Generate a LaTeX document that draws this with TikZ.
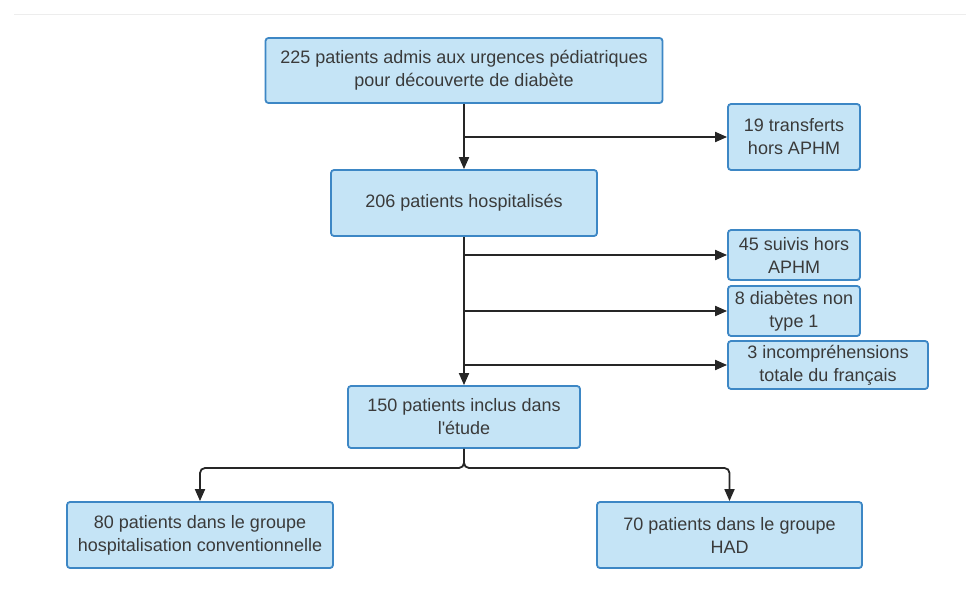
\documentclass[tikz,border=0pt]{standalone}
\usepackage{fontspec}
\setmainfont{Liberation Sans}
\usetikzlibrary{arrows.meta}
\definecolor{boxfill}{HTML}{C5E4F6}
\definecolor{boxdraw}{HTML}{3D87C5}
\definecolor{txt}{HTML}{3A3A3A}
\tikzset{
  box/.style={draw=boxdraw, fill=boxfill, line width=1.8pt, rounded corners=3pt,
    align=center, text=txt, inner sep=0pt, font=\fontsize{18}{23}\selectfont},
  arr/.style={draw=black!85, line width=1.8pt, -{Triangle[length=12pt,width=10pt]}},
}
\begin{document}
\begin{tikzpicture}[x=1pt,y=-1pt]
\useasboundingbox (0,0) rectangle (966,591);
\fill[white] (0,0) rectangle (966,591);
\draw[black!7, line width=0.8pt] (14,14) -- (966,14);

\node[box, minimum width=397pt, minimum height=65pt] (top) at (464,70.5)
  {225 patients admis aux urgences pédiatriques\\pour découverte de diabète};
\node[box, minimum width=132pt, minimum height=66pt] (t19) at (794,137)
  {19 transferts\\hors APHM};
\node[box, minimum width=266pt, minimum height=66pt] (h206) at (464,203)
  {206 patients hospitalisés};
\node[box, minimum width=132pt, minimum height=50pt] (s45) at (794,255)
  {45 suivis hors\\APHM};
\node[box, minimum width=132pt, minimum height=50pt] (d8) at (794,311)
  {8 diabètes non\\type 1};
\node[box, minimum width=200pt, minimum height=48pt] (i3) at (828,365)
  {3 incompréhensions\\totale du français};
\node[box, minimum width=232pt, minimum height=62pt] (i150) at (464,417)
  {150 patients inclus dans\\l\textquotesingle étude};
\node[box, minimum width=266pt, minimum height=66pt] (g80) at (200,535)
  {80 patients dans le groupe\\hospitalisation conventionnelle};
\node[box, minimum width=265pt, minimum height=66pt] (g70) at (729.5,535)
  {70 patients dans le groupe\\HAD};

\coordinate (b1) at (top.south |- t19.west);
\coordinate (b2) at (h206.south |- s45.west);
\coordinate (b3) at (h206.south |- d8.west);
\coordinate (b4) at (h206.south |- i3.west);
\coordinate (j) at (464,468);

\draw[arr] (top.south) -- (h206.north);
\draw[arr] (b1) -- (t19.west);
\draw[arr] (h206.south) -- (i150.north);
\draw[arr] (b2) -- (s45.west);
\draw[arr] (b3) -- (d8.west);
\draw[arr] (b4) -- (i3.west);
\draw[arr, rounded corners=5pt] (i150.south) -- (j) -| (g80.north);
\draw[arr, rounded corners=5pt] (i150.south) -- (j) -| (g70.north);
\end{tikzpicture}
\end{document}
